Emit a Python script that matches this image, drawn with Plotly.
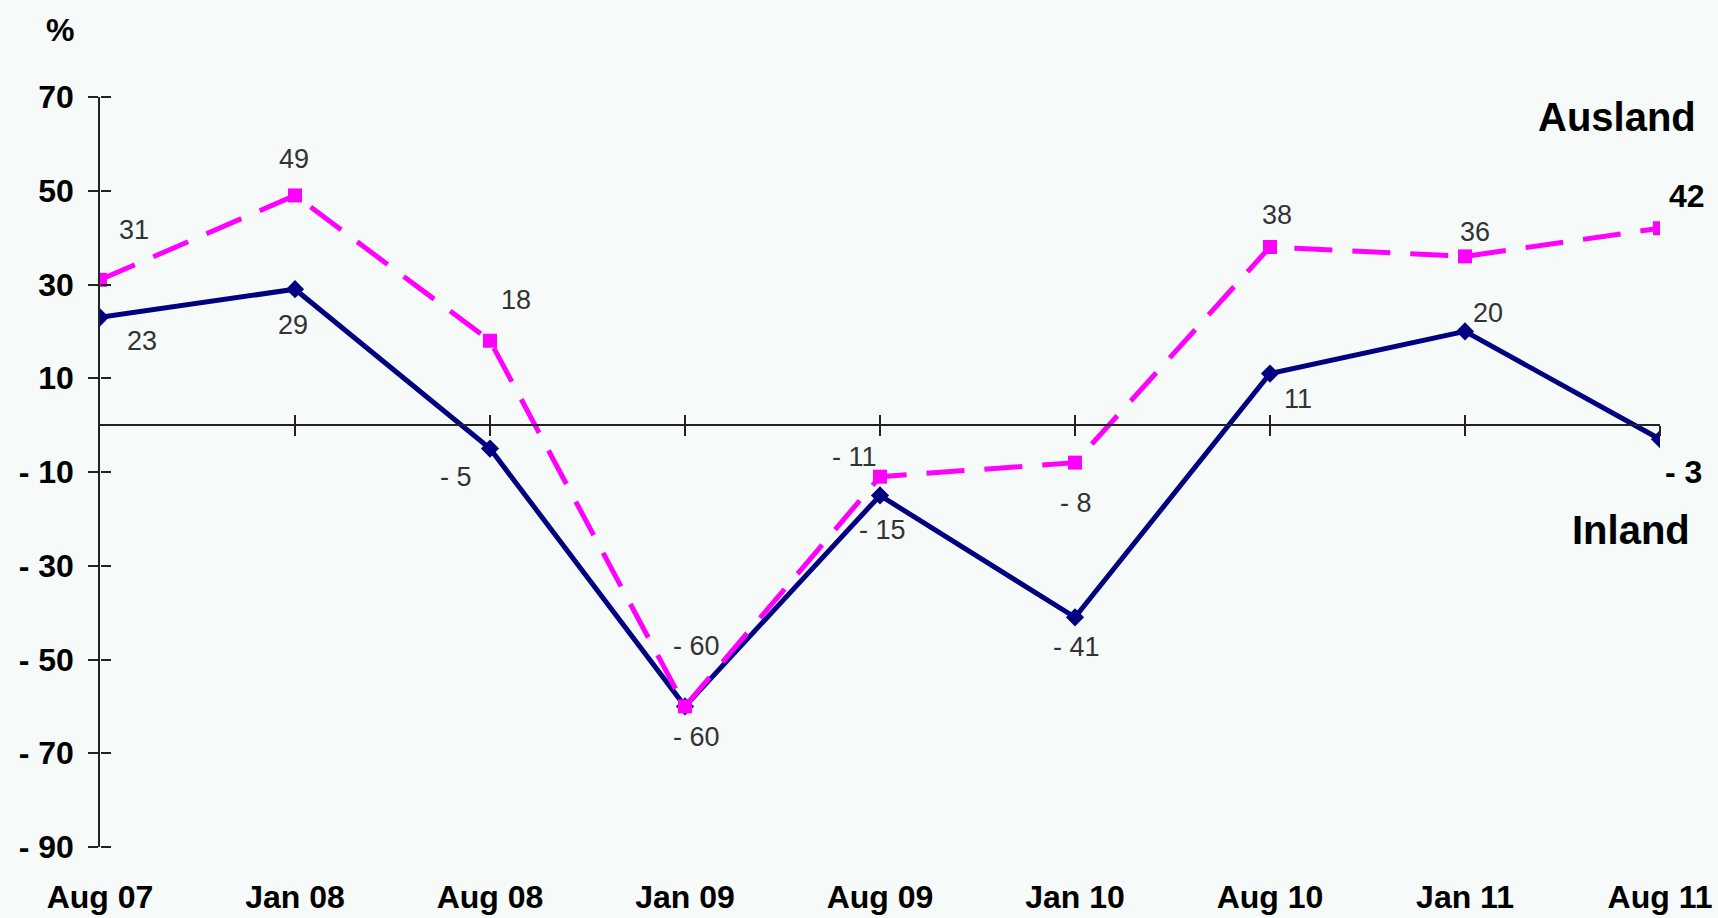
import plotly.graph_objects as go

# ---------------- data ----------------
categories = ["Aug 07", "Jan 08", "Aug 08", "Jan 09", "Aug 09", "Jan 10", "Aug 10", "Jan 11", "Aug 11"]
ausland = [31, 49, 18, -60, -11, -8, 38, 36, 42]
inland = [23, 29, -5, -60, -15, -41, 11, 20, -3]
y_ticks = [70, 50, 30, 10, -10, -30, -50, -70, -90]
y_range = [-90, 70]

# label offsets in pixels (style only)
aus_dx = [34, -1, 26, 11, -26, 1, 7, 10, 27]
aus_dy = [50, 36, 41, 60, 20, -40, 32, 24, 32]
inl_dx = [42, -2, -34, 11, 2, 1, 28, 23, 23]
inl_dy = [-24, -36, -28, -31, -35, -30, -25, 18, -33]


def fmt(v):
    return f"- {abs(v)}" if v < 0 else f"{v}"


x_idx = list(range(len(categories)))
BG = "#F6FAF8"
FONT = "Liberation Sans, Arial, sans-serif"
AXC = "#222222"

fig = go.Figure()

# invisible helper traces so that the overlay axes (crossing ticks, zero line) get drawn
for xa, ya in (("x2", "y"), ("x3", "y"), ("x", "y2")):
    fig.add_trace(go.Scatter(
        x=x_idx, y=inland, xaxis=xa, yaxis=ya, mode="lines",
        line=dict(width=0), opacity=0, hoverinfo="skip", showlegend=False,
    ))

fig.add_trace(go.Scatter(
    x=x_idx, y=inland, mode="lines+markers", name="Inland",
    line=dict(color="#000080", width=5),
    marker=dict(symbol="diamond", size=14, color="#000080"),
    hoverinfo="skip", showlegend=False,
))
fig.add_trace(go.Scatter(
    x=x_idx, y=ausland, mode="lines+markers", name="Ausland",
    line=dict(color="#FF00FF", width=5, dash="38px,20px"),
    marker=dict(symbol="square", size=14, color="#FF00FF"),
    hoverinfo="skip", showlegend=False,
))

annotations = []
n = len(categories)
for i in range(n):
    last = i == n - 1
    for vals, dx, dy in ((ausland, aus_dx, aus_dy), (inland, inl_dx, inl_dy)):
        annotations.append(dict(
            x=i, y=vals[i], xref="x", yref="y", text=fmt(vals[i]),
            showarrow=False, xshift=dx[i], yshift=dy[i],
            xanchor="center", yanchor="middle",
            font=dict(family=FONT, size=32 if last else 27,
                      color="#000000" if last else "#333333",
                      weight="bold" if last else "normal"),
        ))

annotations += [
    dict(x=-0.0256, y=1.0893, xref="paper", yref="paper", text="<b>%</b>",
         showarrow=False, xanchor="center", yanchor="middle",
         font=dict(family=FONT, size=32, color="#000000")),
    dict(x=0.9724, y=0.9733, xref="paper", yref="paper", text="<b>Ausland</b>",
         showarrow=False, xanchor="center", yanchor="middle",
         font=dict(family=FONT, size=40, color="#000000")),
    dict(x=0.9814, y=0.4227, xref="paper", yref="paper", text="<b>Inland</b>",
         showarrow=False, xanchor="center", yanchor="middle",
         font=dict(family=FONT, size=40, color="#000000")),
]

zero_pos = (0 - y_range[0]) / (y_range[1] - y_range[0])
x_range = [0, n - 1]

fig.update_layout(
    width=1718, height=918,
    margin=dict(l=100, r=58, t=97, b=71, autoexpand=False),
    paper_bgcolor=BG, plot_bgcolor=BG,
    showlegend=False,
    annotations=annotations,
    xaxis=dict(
        range=x_range, tickmode="array", tickvals=x_idx, ticktext=categories,
        showline=False, showgrid=False, zeroline=False, ticks="",
        ticklabelstandoff=28,
        tickfont=dict(family=FONT, size=32, color="#000000", weight="bold"),
    ),
    xaxis2=dict(
        overlaying="x", anchor="free", position=zero_pos, range=x_range,
        tickmode="array", tickvals=x_idx[1:], ticks="outside", ticklen=10,
        tickwidth=1.5, tickcolor=AXC,
        showline=True, linecolor=AXC, linewidth=1.5,
        showgrid=False, zeroline=False, showticklabels=False,
    ),
    xaxis3=dict(
        overlaying="x", anchor="free", position=zero_pos, range=x_range,
        tickmode="array", tickvals=x_idx[1:], ticks="inside", ticklen=10,
        tickwidth=1.5, tickcolor=AXC,
        showline=False, showgrid=False, zeroline=False, showticklabels=False,
    ),
    yaxis=dict(
        range=y_range, tickmode="array", tickvals=y_ticks,
        ticktext=[fmt(v) for v in y_ticks],
        ticks="outside", ticklen=10, tickwidth=1.5, tickcolor=AXC,
        showline=True, linecolor=AXC, linewidth=1.5,
        showgrid=False, zeroline=False, ticklabelstandoff=8,
        tickfont=dict(family=FONT, size=32, color="#000000", weight="bold"),
    ),
    yaxis2=dict(
        overlaying="y", anchor="free", position=0, side="right", range=y_range,
        tickmode="array", tickvals=y_ticks, ticks="outside", ticklen=10,
        tickwidth=1.5, tickcolor=AXC,
        showline=False, showgrid=False, zeroline=False, showticklabels=False,
    ),
)

fig.write_html(
    "out.html",
    config={"displayModeBar": False},
    post_script=(
        "document.documentElement.style.margin='0';"
        "document.documentElement.style.overflow='hidden';"
        "document.body.style.margin='0';"
        "document.body.style.overflow='hidden';"
        f"document.body.style.background='{BG}';"
    ),
)
